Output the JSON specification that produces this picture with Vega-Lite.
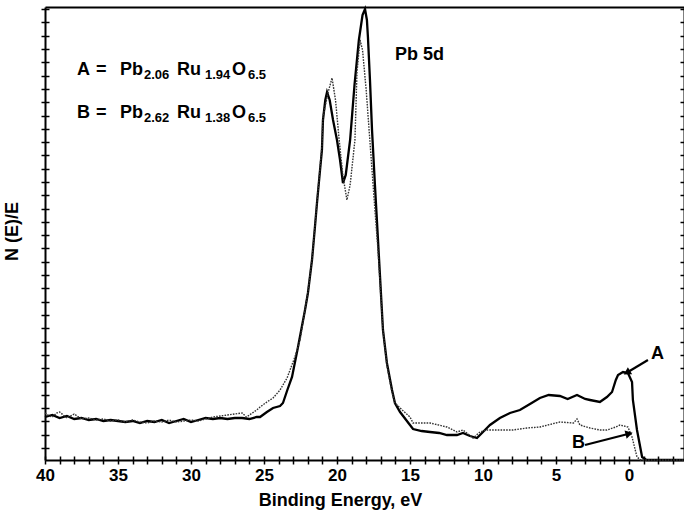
{
  "$schema": "https://vega.github.io/schema/vega-lite/v6.json",
  "width": 639,
  "height": 453,
  "autosize": {"type": "none"},
  "padding": {"left": 45, "top": 7, "right": 0, "bottom": 60},
  "background": "white",
  "config": {
    "view": {"stroke": null},
    "font": "Liberation Sans",
    "axis": {"grid": false, "domainColor": "black", "tickColor": "black", "labelColor": "black", "titleColor": "black"}
  },
  "datasets": {
    "curves": [
      {"E":40,"N":43,"s":"A"},{"E":39.5,"N":45,"s":"A"},{"E":39,"N":42,"s":"A"},{"E":38.5,"N":44,"s":"A"},{"E":38,"N":41,"s":"A"},{"E":37.5,"N":42,"s":"A"},{"E":37,"N":40,"s":"A"},{"E":36.5,"N":41,"s":"A"},{"E":36,"N":39,"s":"A"},{"E":35.5,"N":40,"s":"A"},{"E":35,"N":39,"s":"A"},{"E":34.5,"N":38,"s":"A"},{"E":34,"N":39,"s":"A"},{"E":33.5,"N":37,"s":"A"},{"E":33,"N":39,"s":"A"},{"E":32.5,"N":38,"s":"A"},{"E":32,"N":40,"s":"A"},{"E":31.5,"N":37,"s":"A"},{"E":31,"N":39,"s":"A"},{"E":30.5,"N":41,"s":"A"},{"E":30,"N":38,"s":"A"},{"E":29.5,"N":40,"s":"A"},{"E":29,"N":42,"s":"A"},{"E":28.5,"N":41,"s":"A"},{"E":28,"N":42,"s":"A"},{"E":27.5,"N":41,"s":"A"},{"E":27,"N":42,"s":"A"},{"E":26.5,"N":42,"s":"A"},{"E":26,"N":41,"s":"A"},{"E":25.5,"N":43,"s":"A"},{"E":25.27,"N":43,"s":"A"},{"E":24.8,"N":48,"s":"A"},{"E":24.38,"N":52,"s":"A"},{"E":23.9,"N":54,"s":"A"},{"E":23.7,"N":57,"s":"A"},{"E":23.4,"N":70,"s":"A"},{"E":23.08,"N":83,"s":"A"},{"E":22.67,"N":113,"s":"A"},{"E":22.19,"N":150,"s":"A"},{"E":21.99,"N":167,"s":"A"},{"E":21.71,"N":200,"s":"A"},{"E":21.51,"N":233,"s":"A"},{"E":21.37,"N":257,"s":"A"},{"E":21.16,"N":290,"s":"A"},{"E":21.03,"N":310,"s":"A"},{"E":20.96,"N":340,"s":"A"},{"E":20.8,"N":360,"s":"A"},{"E":20.68,"N":368,"s":"A"},{"E":20.5,"N":360,"s":"A"},{"E":20.27,"N":340,"s":"A"},{"E":20.0,"N":320,"s":"A"},{"E":19.79,"N":300,"s":"A"},{"E":19.59,"N":277,"s":"A"},{"E":19.4,"N":285,"s":"A"},{"E":19.1,"N":320,"s":"A"},{"E":18.8,"N":375,"s":"A"},{"E":18.5,"N":420,"s":"A"},{"E":18.25,"N":445,"s":"A"},{"E":18.08,"N":451,"s":"A"},{"E":17.95,"N":440,"s":"A"},{"E":17.88,"N":423,"s":"A"},{"E":17.74,"N":380,"s":"A"},{"E":17.6,"N":330,"s":"A"},{"E":17.4,"N":275,"s":"A"},{"E":17.19,"N":220,"s":"A"},{"E":16.85,"N":130,"s":"A"},{"E":16.58,"N":97,"s":"A"},{"E":16.23,"N":70,"s":"A"},{"E":16.03,"N":57,"s":"A"},{"E":15.68,"N":48,"s":"A"},{"E":15.0,"N":35,"s":"A"},{"E":14.79,"N":31,"s":"A"},{"E":14.2,"N":29,"s":"A"},{"E":13.63,"N":28,"s":"A"},{"E":13.0,"N":27,"s":"A"},{"E":12.47,"N":25,"s":"A"},{"E":11.78,"N":25,"s":"A"},{"E":11.37,"N":27,"s":"A"},{"E":10.89,"N":24,"s":"A"},{"E":10.41,"N":22,"s":"A"},{"E":10.0,"N":28,"s":"A"},{"E":9.73,"N":32,"s":"A"},{"E":9.52,"N":35,"s":"A"},{"E":8.84,"N":42,"s":"A"},{"E":8.15,"N":47,"s":"A"},{"E":7.47,"N":50,"s":"A"},{"E":6.78,"N":56,"s":"A"},{"E":6.1,"N":62,"s":"A"},{"E":5.5,"N":65,"s":"A"},{"E":4.73,"N":64,"s":"A"},{"E":4.2,"N":61,"s":"A"},{"E":3.56,"N":65,"s":"A"},{"E":3.0,"N":61,"s":"A"},{"E":2.67,"N":60,"s":"A"},{"E":1.99,"N":58,"s":"A"},{"E":1.51,"N":63,"s":"A"},{"E":1.16,"N":68,"s":"A"},{"E":0.9,"N":80,"s":"A"},{"E":0.75,"N":85,"s":"A"},{"E":0.41,"N":88,"s":"A"},{"E":0.07,"N":87,"s":"A"},{"E":-0.21,"N":78,"s":"A"},{"E":-0.27,"N":60,"s":"A"},{"E":-0.55,"N":30,"s":"A"},{"E":-0.9,"N":3,"s":"A"},{"E":-1.2,"N":0,"s":"A"},{"E":-3.77,"N":0,"s":"A"},
      {"E":40,"N":47,"s":"B"},{"E":39.7,"N":44,"s":"B"},{"E":39.5,"N":43,"s":"B"},{"E":39.2,"N":47,"s":"B"},{"E":39,"N":48,"s":"B"},{"E":38.5,"N":42,"s":"B"},{"E":38,"N":46,"s":"B"},{"E":37.5,"N":41,"s":"B"},{"E":37,"N":42,"s":"B"},{"E":36.5,"N":40,"s":"B"},{"E":36,"N":41,"s":"B"},{"E":35.5,"N":39,"s":"B"},{"E":35,"N":40,"s":"B"},{"E":34.5,"N":38,"s":"B"},{"E":34,"N":40,"s":"B"},{"E":33.5,"N":38,"s":"B"},{"E":33,"N":37,"s":"B"},{"E":32.5,"N":39,"s":"B"},{"E":32,"N":38,"s":"B"},{"E":31.5,"N":40,"s":"B"},{"E":31,"N":38,"s":"B"},{"E":30.5,"N":39,"s":"B"},{"E":30,"N":40,"s":"B"},{"E":29.5,"N":39,"s":"B"},{"E":29,"N":41,"s":"B"},{"E":28.5,"N":43,"s":"B"},{"E":28,"N":44,"s":"B"},{"E":27.5,"N":45,"s":"B"},{"E":27,"N":46,"s":"B"},{"E":26.5,"N":47,"s":"B"},{"E":26.2,"N":43,"s":"B"},{"E":26,"N":45,"s":"B"},{"E":25.5,"N":50,"s":"B"},{"E":25.27,"N":53,"s":"B"},{"E":24.8,"N":58,"s":"B"},{"E":24.38,"N":62,"s":"B"},{"E":23.9,"N":70,"s":"B"},{"E":23.42,"N":82,"s":"B"},{"E":22.88,"N":103,"s":"B"},{"E":22.53,"N":120,"s":"B"},{"E":22.19,"N":150,"s":"B"},{"E":21.99,"N":168,"s":"B"},{"E":21.71,"N":201,"s":"B"},{"E":21.51,"N":234,"s":"B"},{"E":21.37,"N":258,"s":"B"},{"E":21.16,"N":292,"s":"B"},{"E":21.03,"N":315,"s":"B"},{"E":20.96,"N":343,"s":"B"},{"E":20.62,"N":367,"s":"B"},{"E":20.34,"N":382,"s":"B"},{"E":20.1,"N":360,"s":"B"},{"E":19.85,"N":320,"s":"B"},{"E":19.6,"N":285,"s":"B"},{"E":19.32,"N":260,"s":"B"},{"E":19.1,"N":275,"s":"B"},{"E":18.77,"N":320,"s":"B"},{"E":18.63,"N":388,"s":"B"},{"E":18.42,"N":420,"s":"B"},{"E":18.25,"N":410,"s":"B"},{"E":18.0,"N":370,"s":"B"},{"E":17.8,"N":330,"s":"B"},{"E":17.6,"N":290,"s":"B"},{"E":17.4,"N":250,"s":"B"},{"E":17.19,"N":210,"s":"B"},{"E":16.85,"N":130,"s":"B"},{"E":16.58,"N":95,"s":"B"},{"E":16.23,"N":68,"s":"B"},{"E":16.03,"N":57,"s":"B"},{"E":15.68,"N":52,"s":"B"},{"E":15.0,"N":43,"s":"B"},{"E":14.79,"N":37,"s":"B"},{"E":13.63,"N":37,"s":"B"},{"E":12.47,"N":33,"s":"B"},{"E":11.78,"N":28,"s":"B"},{"E":11.37,"N":30,"s":"B"},{"E":10.68,"N":22,"s":"B"},{"E":10.2,"N":28,"s":"B"},{"E":9.73,"N":30,"s":"B"},{"E":8.84,"N":30,"s":"B"},{"E":7.95,"N":30,"s":"B"},{"E":6.99,"N":32,"s":"B"},{"E":6.1,"N":33,"s":"B"},{"E":4.73,"N":38,"s":"B"},{"E":3.8,"N":37,"s":"B"},{"E":3.56,"N":41,"s":"B"},{"E":3.36,"N":35,"s":"B"},{"E":2.67,"N":32,"s":"B"},{"E":1.99,"N":30,"s":"B"},{"E":1.51,"N":30,"s":"B"},{"E":0.9,"N":33,"s":"B"},{"E":0.62,"N":35,"s":"B"},{"E":0.07,"N":33,"s":"B"},{"E":-0.21,"N":23,"s":"B"},{"E":-0.55,"N":3,"s":"B"},{"E":-0.8,"N":0,"s":"B"},{"E":-3.77,"N":0,"s":"B"}
    ],
    "labels": [
      {"E":37.81,"N":390,"t":"A"},{"E":36.51,"N":390,"t":"="},{"E":34.86,"N":390,"t":"Pb"},{"E":30.96,"N":390,"t":"Ru"},{"E":27.19,"N":390,"t":"O"},
      {"E":37.81,"N":347,"t":"B"},{"E":36.51,"N":347,"t":"="},{"E":34.86,"N":347,"t":"Pb"},{"E":30.96,"N":347,"t":"Ru"},{"E":27.19,"N":347,"t":"O"},
      {"E":16.03,"N":405,"t":"Pb 5d"},
      {"E":-1.51,"N":106,"t":"A"},
      {"E":3.9,"N":17,"t":"B"}
    ],
    "subs": [
      {"E":33.22,"N":390,"t":"2.06"},{"E":29.04,"N":390,"t":"1.94"},{"E":26.1,"N":390,"t":"6.5"},
      {"E":33.22,"N":347,"t":"2.62"},{"E":29.04,"N":347,"t":"1.38"},{"E":26.1,"N":347,"t":"6.5"}
    ],
    "arrows": [
      {"k":"A","E":-1.3,"N":100,"E2":0.07,"N2":88},
      {"k":"B","E":3.01,"N":15,"E2":0.07,"N2":26}
    ]
  },
  "layer": [
    {
      "data": {"name": "curves"},
      "transform": [{"filter": "datum.s === 'A'"}],
      "mark": {"type": "line", "color": "black", "strokeWidth": 2.3},
      "encoding": {
        "x": {"field": "E", "type": "quantitative",
          "scale": {"domain": [-3.77, 40], "reverse": true, "nice": false, "zero": false},
          "axis": {"title": "Binding Energy, eV", "titleFontSize": 18, "titleFontWeight": "bold", "titleX": 295, "titleY": 40, "titleBaseline": "middle",
            "values": [-3,-2,-1,0,1,2,3,4,5,6,7,8,9,10,11,12,13,14,15,16,17,18,19,20,21,22,23,24,25,26,27,28,29,30,31,32,33,34,35,36,37,38,39,40],
            "labelExpr": "datum.value % 5 === 0 && datum.value >= 0 ? datum.label : ''",
            "labelFontSize": 17, "labelFontWeight": "bold", "labelPadding": 3, "tickSize": 4, "tickWidth": 1.5, "domainWidth": 2, "labelFlush": false}},
        "y": {"field": "N", "type": "quantitative",
          "scale": {"domain": [0, 453], "nice": false, "zero": false},
          "axis": {"title": "N (E)/E", "titleFontSize": 18, "titleFontWeight": "bold", "titleX": -33, "titleY": 224, "titleAngle": 270, "titleAlign": "center", "titleBaseline": "middle",
            "values": [12,25.3,38.6,51.9,65.2,78.5,91.8,105.1,118.4,131.7,145,158.3,171.6,184.9,198.2,211.5,224.8,238.1,251.4,264.7,278,291.3,304.6,317.9,331.2,344.5,357.8,371.1,384.4,397.7,411,424.3,437.6,450.9],
            "labels": false, "tickSize": 4, "tickWidth": 1.5, "domainWidth": 2}}
      }
    },
    {
      "data": {"name": "curves"},
      "transform": [{"filter": "datum.s === 'B'"}],
      "mark": {"type": "line", "color": "#333333", "strokeWidth": 1.4, "strokeDash": [1.6, 1.2]},
      "encoding": {
        "x": {"field": "E", "type": "quantitative", "axis": null},
        "y": {"field": "N", "type": "quantitative", "axis": null}
      }
    },
    {
      "data": {"name": "arrows"},
      "mark": {"type": "rule", "color": "black", "strokeWidth": 2.2},
      "encoding": {
        "x": {"field": "E", "type": "quantitative",
          "axis": {"orient": "top", "title": null, "labels": false, "ticks": false, "domainWidth": 2}},
        "x2": {"field": "E2"},
        "y": {"field": "N", "type": "quantitative",
          "axis": {"orient": "right", "title": null, "labels": false, "domain": true, "domainWidth": 2, "tickSize": -4, "tickWidth": 1.5,
            "values": [12,25.3,38.6,51.9,65.2,78.5,91.8,105.1,118.4,131.7,145,158.3,171.6,184.9,198.2,211.5,224.8,238.1,251.4,264.7,278,291.3,304.6,317.9,331.2,344.5,357.8,371.1,384.4,397.7,411,424.3,437.6,450.9]}},
        "y2": {"field": "N2"}
      }
    },
    {
      "data": {"name": "arrows"},
      "transform": [{"filter": "datum.k === 'A'"}],
      "mark": {"type": "point", "shape": "triangle", "filled": true, "color": "black", "size": 70, "angle": 239, "opacity": 1},
      "encoding": {
        "x": {"field": "E2", "type": "quantitative", "axis": null},
        "y": {"field": "N2", "type": "quantitative", "axis": null}
      }
    },
    {
      "data": {"name": "arrows"},
      "transform": [{"filter": "datum.k === 'B'"}],
      "mark": {"type": "point", "shape": "triangle", "filled": true, "color": "black", "size": 70, "angle": 76, "opacity": 1},
      "encoding": {
        "x": {"field": "E2", "type": "quantitative", "axis": null},
        "y": {"field": "N2", "type": "quantitative", "axis": null}
      }
    },
    {
      "data": {"name": "labels"},
      "mark": {"type": "text", "align": "left", "baseline": "middle", "fontSize": 18, "fontWeight": "bold", "color": "black"},
      "encoding": {
        "x": {"field": "E", "type": "quantitative",
          "axis": {"orient": "bottom", "title": null, "labels": false, "domain": false, "tickSize": -4, "tickWidth": 1.5,
            "values": [-3,-2,-1,0,1,2,3,4,5,6,7,8,9,10,11,12,13,14,15,16,17,18,19,20,21,22,23,24,25,26,27,28,29,30,31,32,33,34,35,36,37,38,39,40]}},
        "y": {"field": "N", "type": "quantitative",
          "axis": {"orient": "left", "title": null, "labels": false, "domain": false, "tickSize": -4, "tickWidth": 1.5,
            "values": [12,25.3,38.6,51.9,65.2,78.5,91.8,105.1,118.4,131.7,145,158.3,171.6,184.9,198.2,211.5,224.8,238.1,251.4,264.7,278,291.3,304.6,317.9,331.2,344.5,357.8,371.1,384.4,397.7,411,424.3,437.6,450.9]}},
        "text": {"field": "t"}
      }
    },
    {
      "data": {"name": "subs"},
      "mark": {"type": "text", "align": "left", "baseline": "middle", "fontSize": 13, "fontWeight": "bold", "color": "black", "dy": 5},
      "encoding": {
        "x": {"field": "E", "type": "quantitative", "axis": null},
        "y": {"field": "N", "type": "quantitative", "axis": null},
        "text": {"field": "t"}
      }
    }
  ],
  "resolve": {"axis": {"x": "independent", "y": "independent"}}
}
